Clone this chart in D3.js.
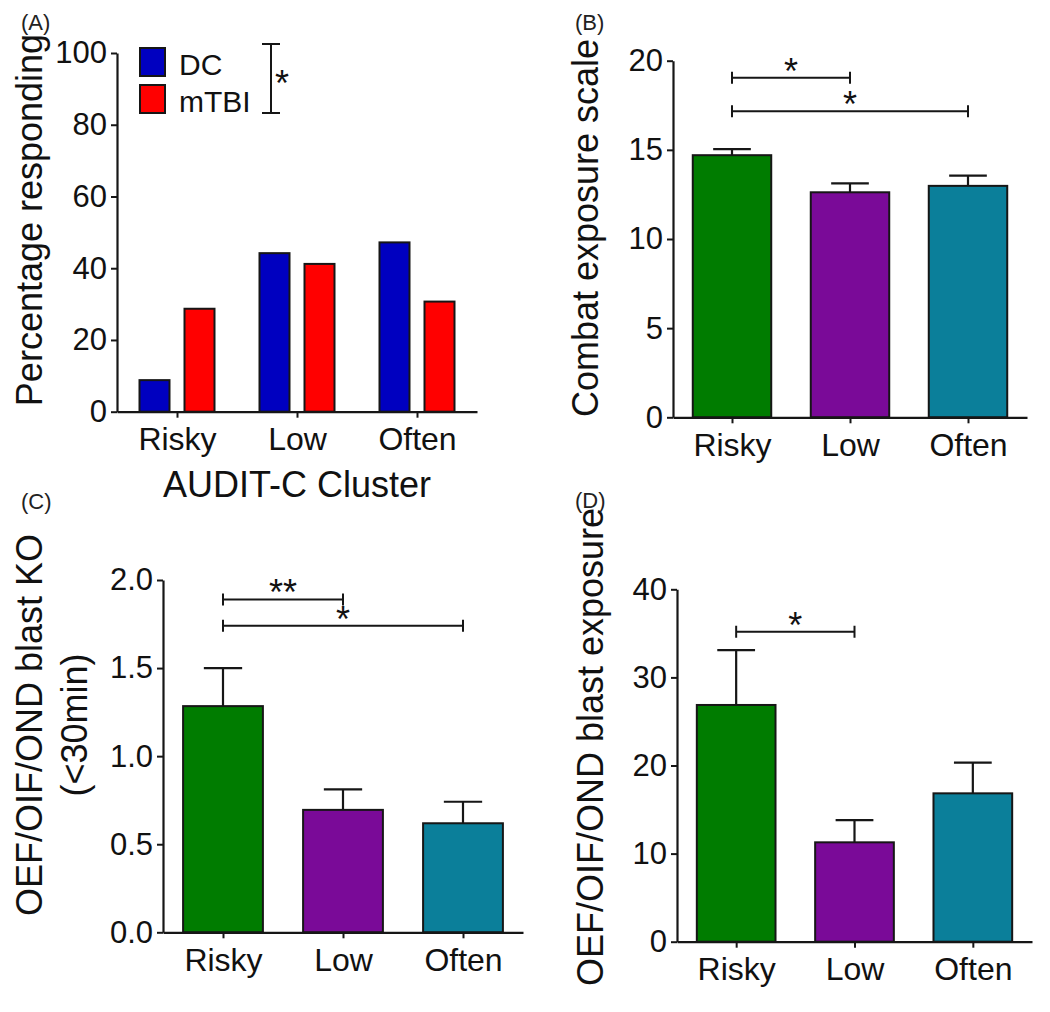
<!DOCTYPE html>
<html>
<head>
<meta charset="utf-8">
<script src="https://cdn.jsdelivr.net/npm/d3@7"></script>
<style>
  html, body { margin: 0; padding: 0; background: #fff; }
  svg { display: block; font-family: "Liberation Sans", Arial, Helvetica, sans-serif; }
</style>
</head>
<body>
<svg id="chart" width="1050" height="1012"></svg>
<script>
// ---------------- DATA ----------------
const categories = ["Risky", "Low", "Often"];
const groupKeys = ["DC", "mTBI"];
const groupColors = ["#0000c0", "#ff0000"];
const clusterColors = ["#007c00", "#7a0a98", "#0b7f9a"];

// (A) Percentage responding
const pctDC = [8.8, 44.2, 47.2];
const pctMTBI = [28.7, 41.2, 30.7];
const ticksA = [0, 20, 40, 60, 80, 100];

// (B) Combat exposure scale
const combatMean = [14.7, 12.62, 12.98];
const combatSem = [0.34, 0.5, 0.58];
const ticksB = [0, 5, 10, 15, 20];
const sigB = [
  { from: 0, to: 1, y: 19.04, label: "*" },
  { from: 0, to: 2, y: 17.17, label: "*" }
];

// (C) Blast KO (<30min)
const koMean = [1.284, 0.695, 0.619];
const koSem = [0.216, 0.116, 0.122];
const ticksC = [0, 0.5, 1.0, 1.5, 2.0];
const sigC = [
  { from: 0, to: 1, y: 1.89, label: "**" },
  { from: 0, to: 2, y: 1.74, label: "*" }
];

// (D) Blast exposure
const blastMean = [26.87, 11.28, 16.84];
const blastSem = [6.23, 2.53, 3.48];
const ticksD = [0, 10, 20, 30, 40];
const sigD = [
  { from: 0, to: 1, y: 35.19, label: "*" }
];

// ---------------- DRAWING ----------------
const svg = d3.select("#chart");
svg.append("rect").attr("width", 1050).attr("height", 1012).attr("fill", "#fff");

const AXIS = "#161616";
const TICK_FS = 31;
const CAT_FS = 32;
const TITLE_FS = 36;

function makeAxes(g, p, y, x, ticks, fmt) {
  const ya = g.append("g")
    .attr("transform", `translate(${p.x0},0)`)
    .call(d3.axisLeft(y).tickValues(ticks).tickFormat(fmt).tickSize(6).tickSizeOuter(0).tickPadding(4));
  ya.select(".domain").attr("stroke", AXIS).attr("stroke-width", 2.2);
  ya.selectAll(".tick line").attr("stroke", AXIS).attr("stroke-width", 2);
  ya.selectAll(".tick text").attr("font-size", p.tickFs || TICK_FS).attr("fill", "#111")
    .style("font-family", "'Liberation Sans', Arial, sans-serif");

  const xa = g.append("g")
    .attr("transform", `translate(0,${p.y0})`)
    .call(d3.axisBottom(x).tickSize(6).tickSizeOuter(0).tickPadding(10));
  xa.select(".domain").attr("stroke", AXIS).attr("stroke-width", 2.2);
  xa.selectAll(".tick line").attr("stroke", AXIS).attr("stroke-width", 2);
  xa.selectAll(".tick text").attr("font-size", CAT_FS).attr("fill", "#111")
    .style("font-family", "'Liberation Sans', Arial, sans-serif");
}

function yTitle(g, lines, bx, cy, lineGap) {
  lines.forEach((t, i) => {
    g.append("text")
      .attr("transform", `translate(${bx + i * lineGap},${cy}) rotate(-90)`)
      .attr("text-anchor", "middle")
      .attr("font-size", TITLE_FS)
      .attr("fill", "#111")
      .text(t);
  });
}

function panelLabel(txt, x, y) {
  svg.append("text").attr("x", x).attr("y", y).attr("font-size", 22).attr("fill", "#222").text(txt);
}

function sigBrackets(g, x, y, sig) {
  sig.forEach(s => {
    const xa = x(categories[s.from]), xb = x(categories[s.to]), yy = y(s.y);
    g.append("path")
      .attr("d", `M${xa},${yy - 6}V${yy + 6}M${xa},${yy}H${xb}M${xb},${yy - 6}V${yy + 6}`)
      .attr("stroke", AXIS).attr("stroke-width", 2).attr("fill", "none");
    g.append("text")
      .attr("x", (xa + xb) / 2).attr("y", yy + 6)
      .attr("text-anchor", "middle").attr("font-size", 36).attr("fill", "#111")
      .text(s.label);
  });
}

function singleBarPanel(p, means, sems, ticks, fmt, sig, titleLines, titlePos) {
  const g = svg.append("g");
  const x = d3.scalePoint().domain(categories).range([p.x0, p.x1]).padding(0.5);
  const step = x.step();
  const bw = step * 0.665;
  const y = d3.scaleLinear().domain([ticks[0], ticks[ticks.length - 1]]).range([p.y0, p.yT]);

  const data = categories.map((c, i) => ({ c, m: means[i], s: sems[i], col: clusterColors[i] }));
  g.selectAll(".err").data(data).join("path")
    .attr("d", d => {
      const cx = x(d.c), top = y(d.m + d.s), cw = bw * 0.24;
      return `M${cx},${y(d.m)}V${top}M${cx - cw},${top}H${cx + cw}`;
    })
    .attr("stroke", AXIS).attr("stroke-width", 2.2).attr("fill", "none");

  g.selectAll(".bar").data(data).join("rect")
    .attr("x", d => x(d.c) - bw / 2).attr("width", bw)
    .attr("y", d => y(d.m)).attr("height", d => y(0) - y(d.m))
    .attr("fill", d => d.col).attr("stroke", AXIS).attr("stroke-width", 2);

  makeAxes(g, p, y, x, ticks, fmt);
  sigBrackets(g, x, y, sig);
  yTitle(g, titleLines, titlePos[0], titlePos[1], 45);
}

// ---- Panel A ----
(function () {
  const p = { x0: 117, x1: 477, y0: 411.7, yT: 53 };
  const g = svg.append("g");
  const x = d3.scalePoint().domain(categories).range([p.x0, p.x1]).padding(0.5);
  const xs = d3.scaleBand().domain(groupKeys).range([-37.5, 37.5]).paddingInner(1 / 3);
  const y = d3.scaleLinear().domain([0, 100]).range([p.y0, p.yT]);
  const series = [pctDC, pctMTBI];
  const rows = [];
  categories.forEach((c, i) => groupKeys.forEach((k, j) => rows.push({ c, k, v: series[j][i], col: groupColors[j] })));
  g.selectAll(".bar").data(rows).join("rect")
    .attr("x", d => x(d.c) + xs(d.k)).attr("width", xs.bandwidth())
    .attr("y", d => y(d.v)).attr("height", d => y(0) - y(d.v))
    .attr("fill", d => d.col).attr("stroke", AXIS).attr("stroke-width", 2);
  makeAxes(g, p, y, x, ticksA, d3.format("d"));

  // legend
  const lg = g.append("g");
  groupKeys.forEach((k, j) => {
    lg.append("rect").attr("x", 140).attr("y", 48 + j * 37).attr("width", 25).attr("height", 28)
      .attr("fill", groupColors[j]).attr("stroke", AXIS).attr("stroke-width", 2);
    lg.append("text").attr("x", 179).attr("y", 75 + j * 37).attr("font-size", 30).attr("fill", "#111").text(k);
  });
  lg.append("path").attr("d", "M262,44H280M271,44V113M262,113H280")
    .attr("stroke", AXIS).attr("stroke-width", 2).attr("fill", "none");
  lg.append("text").attr("x", 282).attr("y", 96).attr("text-anchor", "middle").attr("font-size", 36).attr("fill", "#111").text("*");

  yTitle(g, ["Percentage responding"], 42, 220, 0);
  g.append("text").attr("x", 297).attr("y", 497).attr("text-anchor", "middle")
    .attr("font-size", TITLE_FS).attr("fill", "#111").text("AUDIT-C Cluster");
})();

// ---- Panel B ----
singleBarPanel({ x0: 673, x1: 1027, y0: 417.3, yT: 60.7 }, combatMean, combatSem, ticksB, d3.format("d"), sigB,
  ["Combat exposure scale"], [598, 228]);

// ---- Panel C ----
singleBarPanel({ x0: 163, x1: 523, y0: 932.3, yT: 580 }, koMean, koSem, ticksC, d3.format(".1f"), sigC,
  ["OEF/OIF/OND blast KO", "(<30min)"], [42, 725]);

// ---- Panel D ----
singleBarPanel({ x0: 677, x1: 1032, y0: 941.7, yT: 589.3 }, blastMean, blastSem, ticksD, d3.format("d"), sigD,
  ["OEF/OIF/OND blast exposure"], [603, 747]);

panelLabel("(A)", 21, 30);
panelLabel("(B)", 575, 30);
panelLabel("(C)", 21, 509);
panelLabel("(D)", 575, 508);
</script>
</body>
</html>
